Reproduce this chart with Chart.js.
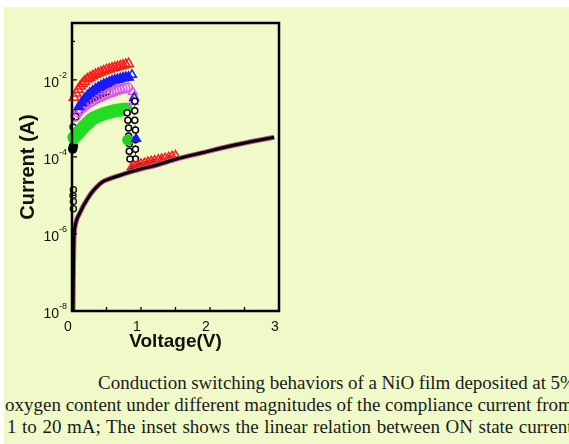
<!DOCTYPE html>
<html>
<head>
<meta charset="utf-8">
<script src="https://cdn.jsdelivr.net/npm/chart.js@4.4.0/dist/chart.umd.min.js"></script>
<style>
    html, body { margin: 0; padding: 0; background: #fff; width: 569px; height: 444px; overflow: hidden; }
    #panel { position: absolute; left: 4px; top: 7px; width: 565px; height: 437px; background: #f0fac8; overflow: hidden; }
    #chartBox { position: absolute; left: 0; top: 0; width: 300px; height: 350px; }
    .caption { position: absolute; white-space: nowrap; font-family: "Liberation Serif", "Times New Roman", serif; font-size: 19px; line-height: 22px; color: #1a1a1a; }
</style>
</head>
<body>
<div id="panel">
    <div id="chartBox"><canvas id="ivChart" width="300" height="350"></canvas></div>
    <div class="caption" style="left:94px; top:365px; word-spacing:-0.2px;">Conduction switching behaviors of a NiO film deposited at 5%</div>
    <div class="caption" style="left:1px; top:387px;">oxygen content under different magnitudes of the compliance current from</div>
    <div class="caption" style="left:3px; top:409px; word-spacing:0.8px;">1 to 20 mA; The inset shows the linear relation between ON state current</div>
</div>
<script>
// OFF state (high resistance) sweep
const offV = [0.015, 0.02, 0.025, 0.03, 0.043, 0.07, 0.114, 0.16, 0.214, 0.28, 0.357, 0.45, 0.54, 0.69, 0.79, 0.97, 1.2, 1.5, 1.87, 2.36, 2.93];
const offI = [1e-8, 1e-7, 4e-7, 9e-7, 1.5e-6, 2.4e-6, 3.5e-6, 5.2e-6, 7.6e-6, 1.15e-5, 1.66e-5, 2.3e-5, 2.7e-5, 3.3e-5, 3.8e-5, 4.7e-5, 6.0e-5, 8.7e-5, 1.26e-4, 2.04e-4, 3.24e-4];

// ON state sweeps for different compliance currents
const redV = [0.03, 0.06, 0.09, 0.12, 0.15, 0.18, 0.22, 0.26, 0.3, 0.34, 0.38, 0.42, 0.46, 0.5, 0.54, 0.58, 0.62, 0.66, 0.7, 0.74, 0.78, 0.82];
const redI = [3.5e-3, 4.5e-3, 5.6e-3, 6.8e-3, 7.9e-3, 9.1e-3, 1.05e-2, 1.15e-2, 1.26e-2, 1.38e-2, 1.48e-2, 1.58e-2, 1.7e-2, 1.82e-2, 1.9e-2, 2.0e-2, 2.09e-2, 2.19e-2, 2.29e-2, 2.4e-2, 2.51e-2, 2.63e-2];

const blueV = [0.1, 0.14, 0.18, 0.22, 0.26, 0.3, 0.34, 0.38, 0.42, 0.46, 0.5, 0.54, 0.58, 0.62, 0.66, 0.7, 0.74, 0.78, 0.82];
const blueI = [2.0e-3, 2.6e-3, 3.2e-3, 3.8e-3, 4.5e-3, 5.1e-3, 5.75e-3, 6.3e-3, 6.9e-3, 7.6e-3, 8.1e-3, 8.7e-3, 9.3e-3, 9.8e-3, 1.02e-2, 1.07e-2, 1.12e-2, 1.15e-2, 1.17e-2];

const blackOnV = [0.05, 0.1, 0.15, 0.2, 0.25, 0.3, 0.35, 0.4, 0.45, 0.5];
const blackOnI = [1.1e-3, 1.6e-3, 2.1e-3, 2.5e-3, 2.95e-3, 3.4e-3, 3.8e-3, 4.2e-3, 4.6e-3, 5.0e-3];

const pinkV = [0.05, 0.09, 0.13, 0.17, 0.21, 0.25, 0.29, 0.33, 0.37, 0.41, 0.45, 0.49, 0.53, 0.57, 0.61, 0.65, 0.69, 0.73, 0.77, 0.81];
const pinkI = [1.12e-3, 1.45e-3, 1.74e-3, 2.0e-3, 2.3e-3, 2.57e-3, 2.8e-3, 3.1e-3, 3.4e-3, 3.6e-3, 3.9e-3, 4.2e-3, 4.5e-3, 4.8e-3, 5.0e-3, 5.4e-3, 5.6e-3, 5.9e-3, 6.2e-3, 6.3e-3];

const greenV = [0.03, 0.06, 0.09, 0.12, 0.15, 0.18, 0.21, 0.24, 0.27, 0.3, 0.34, 0.38, 0.42, 0.46, 0.5, 0.54, 0.58, 0.62, 0.66, 0.7, 0.74, 0.78];
const greenI = [3.2e-4, 3.6e-4, 4.2e-4, 4.8e-4, 5.5e-4, 6.3e-4, 7.1e-4, 7.9e-4, 8.9e-4, 1.0e-3, 1.07e-3, 1.15e-3, 1.23e-3, 1.32e-3, 1.38e-3, 1.45e-3, 1.51e-3, 1.58e-3, 1.62e-3, 1.66e-3, 1.7e-3, 1.74e-3];

// switching (drop) points and points right after reset
const dropAV = [0.8, 0.81, 0.82, 0.82, 0.83, 0.83, 0.84];
const dropAI = [1.41e-3, 8.9e-4, 5.6e-4, 3.5e-4, 2.2e-4, 1.4e-4, 8.9e-5];
const dropBV = [0.91, 0.91, 0.91, 0.92, 0.92, 0.92, 0.92];
const dropBI = [2.8e-3, 1.58e-3, 8.9e-4, 5.0e-4, 2.8e-4, 1.58e-4, 8.9e-5];

const blueOpenV = [0.87, 0.9];
const blueOpenI = [1.35e-2, 3.4e-3];
const pinkTriV = [0.88, 0.9, 0.89];
const pinkTriI = [4.9e-3, 3.6e-3, 2.7e-3];
const blueDropV = [0.93];
const blueDropI = [2.95e-4];
const greenDropV = [0.81];
const greenDropI = [2.75e-4];

const redOffV = [0.86, 0.9, 0.95, 1.0, 1.05, 1.1, 1.15, 1.2, 1.25, 1.3, 1.35, 1.4, 1.45, 1.5];
const redOffI = [5.4e-5, 6e-5, 6.3e-5, 6.8e-5, 7.1e-5, 7.6e-5, 7.9e-5, 8.3e-5, 8.7e-5, 9.1e-5, 9.5e-5, 1.0e-4, 1.07e-4, 1.12e-4];
const blackOffV = [0.86, 0.9, 0.95, 1.0, 1.05, 1.1, 1.15, 1.2, 1.3, 1.4];
const blackOffI = [4.6e-5, 4.9e-5, 5.2e-5, 5.5e-5, 5.8e-5, 6.1e-5, 6.4e-5, 6.7e-5, 7.4e-5, 8.2e-5];

// low-voltage points near the current axis
const blackDotV = [0.01, 0.02];
const blackDotI = [1.6e-4, 1.9e-4];
const lowOpenV = [0.015, 0.02, 0.015, 0.02, 0.02];
const lowOpenI = [6e-4, 1.4e-5, 1.0e-5, 7e-6, 4.5e-6];

const xTickStep = 0.5;
const yTickExps = [-8, -6, -4, -2];

const pts = (xs, ys) => xs.map((v, i) => ({ x: v, y: ys[i] }));

function markers(label, xs, ys, style, color, fill, radius, order) {
    return {
        label: label,
        data: pts(xs, ys),
        showLine: false,
        pointStyle: style,
        pointRadius: radius,
        pointBorderWidth: 1.5,
        pointBorderColor: color,
        pointBackgroundColor: fill,
        clip: false,
        order: order
    };
}

const framePlugin = {
    id: 'frame',
    afterDatasetsDraw(chart) {
        const { ctx, chartArea: a, scales: { x, y } } = chart;
        ctx.save();
        ctx.strokeStyle = '#000';
        ctx.lineWidth = 2.5;
        ctx.strokeRect(a.left, a.top, a.right - a.left, a.bottom - a.top);

        // inward tick marks
        ctx.lineWidth = 1.3;
        ctx.beginPath();
        x.ticks.forEach(t => {
            const px = x.getPixelForValue(t.value);
            ctx.moveTo(px, a.bottom);
            ctx.lineTo(px, a.bottom - 4);
        });
        for (let e = -8; e <= -1; e++) {
            const py = y.getPixelForValue(Math.pow(10, e));
            ctx.moveTo(a.left, py);
            ctx.lineTo(a.left + (e % 2 === 0 ? 5 : 3), py);
        }
        ctx.stroke();

        // y tick labels as 10 with a raised exponent
        ctx.fillStyle = '#111';
        ctx.textAlign = 'right';
        ctx.textBaseline = 'middle';
        yTickExps.forEach(e => {
            const py = y.getPixelForValue(Math.pow(10, e));
            const right = a.left - 5;
            ctx.font = '9px Arial, "Liberation Sans", sans-serif';
            const sup = String(e);
            const w = ctx.measureText(sup).width;
            ctx.fillText(sup, right, py - 4);
            ctx.font = '14px Arial, "Liberation Sans", sans-serif';
            ctx.fillText('10', right - w, py + 3);
        });
        ctx.restore();
    }
};

new Chart(document.getElementById('ivChart'), {
    type: 'scatter',
    data: {
        datasets: [
            {
                label: 'OFF',
                data: pts(offV, offI),
                showLine: true,
                borderColor: '#000',
                borderWidth: 3,
                pointRadius: 0,
                cubicInterpolationMode: 'monotone',
                order: 1
            },
            {
                label: 'OFF edge',
                data: pts(offV, offI),
                showLine: true,
                borderColor: '#c0508c',
                borderWidth: 5,
                pointRadius: 0,
                cubicInterpolationMode: 'monotone',
                order: 2
            },
            markers('red off', redOffV, redOffI, 'triangle', '#ff1a1a', 'rgba(0,0,0,0)', 4.5, 3),
            markers('blue drop', blueDropV, blueDropI, 'triangle', '#1a1aff', '#1a1aff', 5, 3.5),
            markers('green drop', greenDropV, greenDropI, 'circle', '#22cc22', '#22cc22', 5, 3.5),
            markers('black off', blackOffV, blackOffI, 'triangle', '#000', '#000', 4, 4),
            Object.assign(markers('drop A', dropAV, dropAI, 'circle', '#000', '#fff', 3, 5),
                { showLine: true, borderColor: '#333', borderWidth: 1, borderDash: [2, 2] }),
            Object.assign(markers('drop B', dropBV, dropBI, 'circle', '#000', '#fff', 3, 5),
                { showLine: true, borderColor: '#333', borderWidth: 1, borderDash: [2, 2] }),
            markers('red on', redV, redI, 'triangle', '#ff1a1a', 'rgba(0,0,0,0)', 5.5, 6),
            markers('blue open', blueOpenV, blueOpenI, 'triangle', '#1a1aff', 'rgba(0,0,0,0)', 5, 6),
            markers('blue on', blueV, blueI, 'triangle', '#1a1aff', '#1a1aff', 5.5, 7),
            markers('pink tri', pinkTriV, pinkTriI, 'triangle', '#e050f0', 'rgba(0,0,0,0)', 5, 8),
            markers('pink on', pinkV, pinkI, 'circle', '#e050f0', 'rgba(0,0,0,0)', 4.5, 8),
            markers('black on', blackOnV, blackOnI, 'circle', '#000', 'rgba(0,0,0,0)', 3.5, 9),
            markers('green on', greenV, greenI, 'circle', '#22dd22', '#22dd22', 6, 10),
            markers('black dot', blackDotV, blackDotI, 'circle', '#000', '#000', 4, 11),
            markers('low open', lowOpenV, lowOpenI, 'circle', '#222', 'rgba(0,0,0,0)', 3, 12)
        ]
    },
    options: {
        responsive: false,
        animation: false,
        layout: {
            padding: { left: 4, top: 16, right: 25, bottom: 0 }
        },
        plugins: {
            legend: { display: false },
            tooltip: { enabled: false }
        },
        scales: {
            x: {
                type: 'linear',
                min: 0,
                max: 3,
                grid: { display: false, drawTicks: false },
                border: { display: false },
                ticks: {
                    stepSize: xTickStep,
                    autoSkip: false,
                    maxRotation: 0,
                    padding: 8,
                    labelOffset: -4,
                    color: '#111',
                    font: { family: 'Arial, "Liberation Sans", sans-serif', size: 14 },
                    callback: function (value) {
                        return Number.isInteger(value) ? String(value) : '';
                    }
                },
                title: {
                    display: true,
                    text: 'Voltage(V)',
                    color: '#111',
                    font: { family: 'Arial, "Liberation Sans", sans-serif', size: 19, weight: 'bold' },
                    padding: { top: 0, bottom: 4 }
                },
                afterFit(scale) {
                    scale.height = 46;
                }
            },
            y: {
                type: 'logarithmic',
                min: 1e-8,
                max: 0.3,
                grid: { display: false, drawTicks: false },
                border: { display: false },
                ticks: {
                    callback: function () {
                        return '';
                    }
                },
                title: {
                    display: true,
                    text: 'Current (A)',
                    color: '#111',
                    font: { family: 'Arial, "Liberation Sans", sans-serif', size: 20, weight: 'bold' },
                    padding: { top: 8, bottom: 0 }
                },
                afterFit(scale) {
                    scale.width = 64;
                }
            }
        }
    },
    plugins: [framePlugin]
});
</script>
</body>
</html>
